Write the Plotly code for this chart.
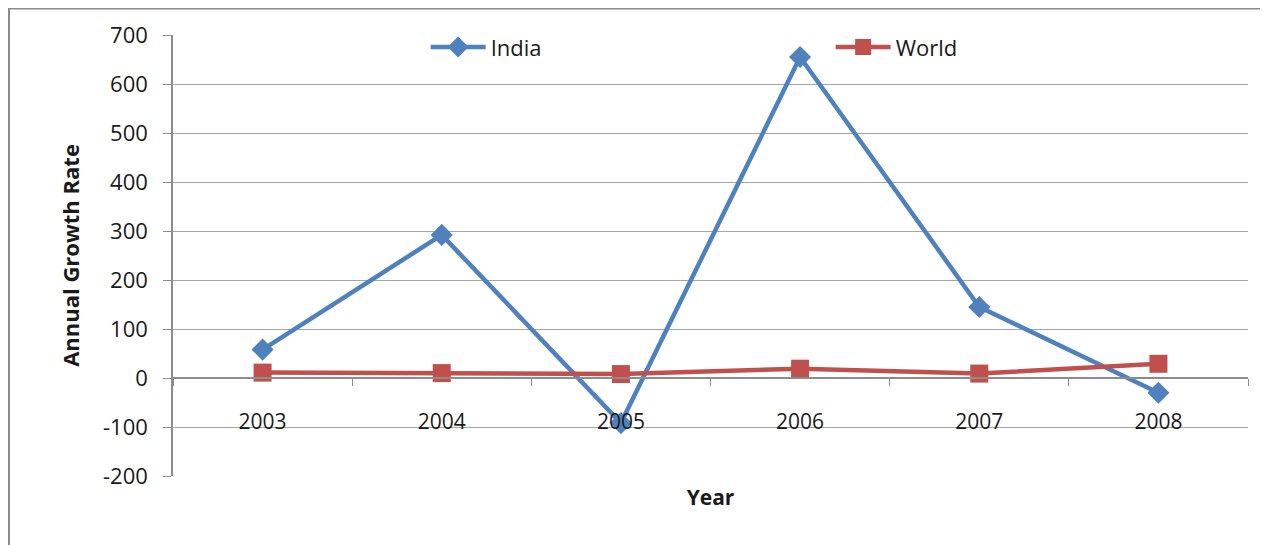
import plotly.graph_objects as go

years = ["2003", "2004", "2005", "2006", "2007", "2008"]
india = [58, 292, -92, 655, 145, -30]
world = [11, 10, 8, 19, 9, 29]
y_ticks = [-200, -100, 0, 100, 200, 300, 400, 500, 600, 700]
y_labels = ["-200", "-100", "0", "100", "200", "300", "400", "500", "600", "700"]

FONT = "Open Sans"
TXT = "#1a1a1a"
# page has an 8px body margin, so the figure is offset by (8, 8)
L, R, T, B = 165, 28, 27, 77
W, H = 1268, 545
pw, ph = W - L - R, H - T - B

fig = go.Figure()
fig.add_trace(go.Scatter(
    x=years, y=india, name="India", mode="lines+markers",
    line=dict(color="#4F81BD", width=4.5),
    marker=dict(symbol="diamond", size=17, color="#4F81BD"),
))
fig.add_trace(go.Scatter(
    x=years, y=world, name="World", mode="lines+markers",
    line=dict(color="#C0504D", width=4.5),
    marker=dict(symbol="square", size=18, color="#C0504D"),
))

ymin, ymax = -200, 700
zero_pos = (0 - ymin) / (ymax - ymin)

fig.update_layout(
    width=W, height=H,
    margin=dict(l=L, r=R, t=T, b=B, autoexpand=False),
    paper_bgcolor="white", plot_bgcolor="white",
    font=dict(family=FONT, size=21, color=TXT),
    showlegend=True,
    legend=dict(
        orientation="h", x=0.235, y=1.02, xanchor="left", yanchor="top",
        bgcolor="rgba(0,0,0,0)", font=dict(size=22, color=TXT),
        entrywidth=335, entrywidthmode="pixels", itemwidth=55,
    ),
    xaxis=dict(
        type="category", range=[-0.5, 5.5],
        anchor="free", position=zero_pos,
        showline=True, linecolor="#8c8c8c", linewidth=1.5,
        ticks="outside", tickson="boundaries", ticklen=7, tickcolor="#8c8c8c",
        showgrid=False, zeroline=False,
        ticklabelstandoff=25,
        tickfont=dict(size=21, color=TXT),
        title=dict(text="<b>Year</b>", font=dict(size=21, color=TXT), standoff=55),
    ),
    yaxis=dict(
        range=[ymin, ymax], tickvals=y_ticks, ticktext=y_labels,
        showline=True, linecolor="#8c8c8c", linewidth=1.5,
        ticks="outside", ticklen=8, tickcolor="#8c8c8c",
        showgrid=True, gridcolor="#a6a6a6", gridwidth=1.2,
        zeroline=False, ticklabelstandoff=11,
        tickfont=dict(size=22, color=TXT),
        title=dict(text="<b>Annual Growth Rate</b>", font=dict(size=22, color=TXT), standoff=17),
    ),
)

# outer chart frame (partially visible)
fig.add_shape(type="line", xref="paper", yref="paper",
              x0=(0 - L) / pw, x1=(W + 20 - L) / pw,
              y0=(H - B - 0.5) / ph, y1=(H - B - 0.5) / ph,
              line=dict(color="#8c8c8c", width=2))
fig.add_shape(type="line", xref="paper", yref="paper",
              x0=(1 - L) / pw, x1=(1 - L) / pw,
              y0=(H - B) / ph, y1=-0.3,
              line=dict(color="#8c8c8c", width=2))

fig.write_html("out.html")
